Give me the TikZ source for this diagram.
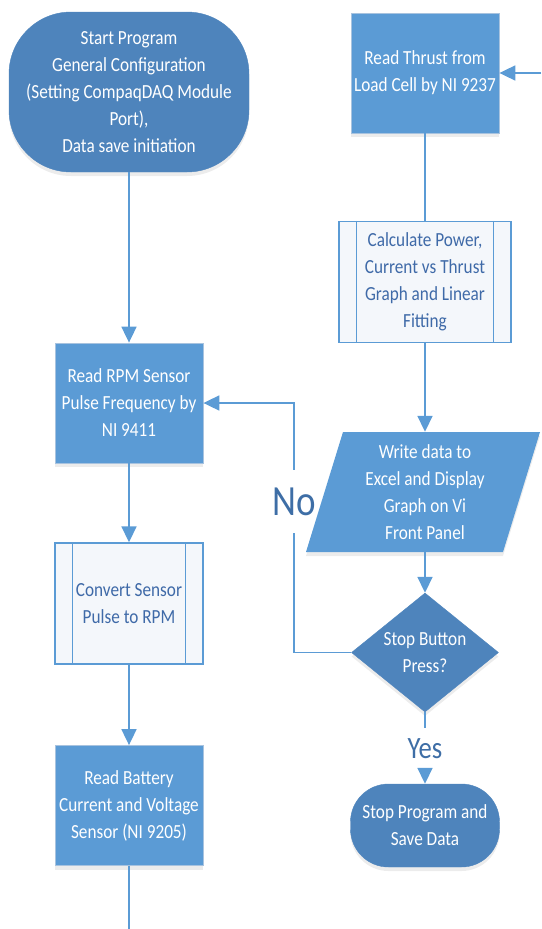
\documentclass[tikz,border=0pt]{standalone}
\usepackage{fontspec}
\setmainfont{Carlito}[FakeStretch=0.86]
\usetikzlibrary{arrows.meta,shapes.geometric,shadows}
\definecolor{proc}{HTML}{5B9BD5}
\definecolor{term}{HTML}{4E84BC}
\definecolor{edgec}{HTML}{A8C3DF}
\definecolor{subfill}{HTML}{F4F7FB}
\definecolor{subtext}{HTML}{3F6AA8}
\definecolor{lblc}{HTML}{3E6EA6}
\begin{document}
\begin{tikzpicture}[x=1pt,y=-1pt,
  base/.style={align=center, font=\fontsize{20}{27}\selectfont, inner sep=0pt},
  shad/.style={drop shadow={shadow xshift=0pt, shadow yshift=-4pt, opacity=0.12, fill=black!60}},
  procbox/.style={base, shad, fill=proc, draw=edgec, line width=0.8pt, text=white,
    minimum width=148pt, minimum height=120pt},
  termbox/.style={base, shad, fill=term, draw=term, text=white},
  subbox/.style={base, fill=subfill, draw=proc, line width=1.4pt, text=subtext,
    minimum height=121pt},
  decbox/.style={base, shad, diamond, fill=term, draw=term, text=white, aspect=1.235,
    minimum width=147pt, minimum height=119pt},
  conn/.style={draw=proc, line width=1.8pt},
  arr/.style={conn, -{Triangle[width=15pt,length=16pt]}},
  lbl/.style={text=lblc, inner sep=0pt}
]
\useasboundingbox (0,0) rectangle (541,929);

% left column
\node[termbox, rounded corners=62pt, minimum width=240pt, minimum height=160pt] (start) at (129,92)
  {Start Program\\General Configuration\\(Setting CompaqDAQ Module\\Port),\\Data save initiation};
\node[procbox] (rpm) at (129,403) {Read RPM Sensor\\Pulse Frequency by\\NI 9411};
\node[subbox, minimum width=148pt] (cv) at (129,603.5) {Convert Sensor\\Pulse to RPM};
\draw[proc, line width=1.4pt] ([xshift=18pt]cv.north west) -- ([xshift=18pt]cv.south west)
  ([xshift=-18pt]cv.north east) -- ([xshift=-18pt]cv.south east);
\node[procbox] (bat) at (129,805.5) {Read Battery\\Current and Voltage\\Sensor (NI 9205)};
\coordinate (bend) at (129,929);

% right column
\node[procbox] (thr) at (425,73) {Read Thrust from\\Load Cell by NI 9237};
\coordinate (rin) at (541,73);
\node[subbox, minimum width=172pt] (calc) at (425,282) {Calculate Power,\\Current vs Thrust\\Graph and Linear\\Fitting};
\draw[proc, line width=1.4pt] ([xshift=18pt]calc.north west) -- ([xshift=18pt]calc.south west)
  ([xshift=-18pt]calc.north east) -- ([xshift=-18pt]calc.south east);
\fill[proc, shad] (306,552) -- (503,552) -- (540,432) -- (343,432) -- cycle;
\node[base, text=white, minimum width=150pt, minimum height=120pt] (wd) at (425,492)
  {Write data to\\Excel and Display\\Graph on Vi\\Front Panel};
\node[decbox] (dia) at (425,652.5) {Stop Button\\Press?};
\node[lbl, font=\fontsize{43}{43}\selectfont, minimum height=63pt] (no) at (294,501.5) {No};
\node[lbl, font=\fontsize{31}{31}\selectfont, minimum height=42pt] (yes) at (425,749) {Yes};
\node[termbox, rounded corners=38pt, minimum width=149pt, minimum height=83pt] (stop) at (425,825.5)
  {Stop Program and\\Save Data};

% connectors
\draw[arr] (start.south) -- (rpm.north);
\draw[arr] (rpm.south) -- (cv.north);
\draw[arr] (cv.south) -- (bat.north);
\draw[conn] (bat.south) -- (bend);
\draw[arr] (rin) -- (thr.east);
\draw[conn] (thr.south) -- (calc.north);
\draw[arr] (calc.south) -- (wd.north);
\draw[arr] (wd.south) -- (dia.north);
\draw[conn] (dia.west) -| (no.south);
\draw[arr] (no.north) |- (rpm.east);
\draw[conn] (dia.south) -- (yes.north);
\draw[arr] (yes.south) -- (stop.north);
\end{tikzpicture}
\end{document}
